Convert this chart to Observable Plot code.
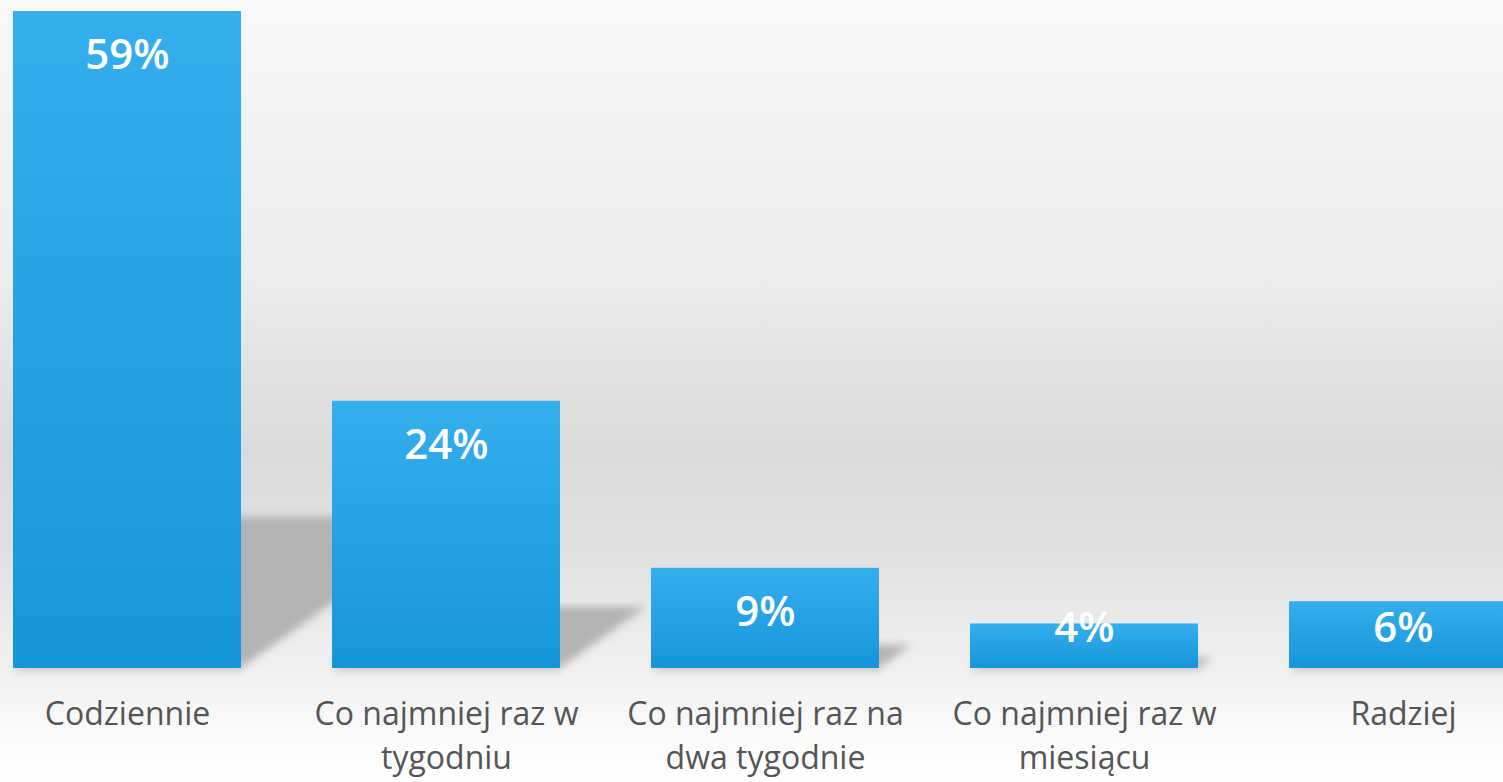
<!DOCTYPE html>
<html>
<head>
<meta charset="utf-8">
<script src="https://cdn.jsdelivr.net/npm/d3@7"></script>
<script src="https://cdn.jsdelivr.net/npm/@observablehq/plot@0.6"></script>
<style>
  html, body { margin: 0; padding: 0; overflow: hidden; }
  body {
    width: 1503px; height: 782px;
    background: linear-gradient(to bottom, #f8f8f8 0%, #ececec 35%, #dadada 58%, #e2e2e2 72%, #f0f0f0 85%, #fcfcfc 96%, #ffffff 100%);
  }
  #chart svg { display: block; background: transparent; }
</style>
</head>
<body>
<div id="chart"></div>
<script>
const categories = [
  "Codziennie",
  "Co najmniej raz w\ntygodniu",
  "Co najmniej raz na\ndwa tygodnie",
  "Co najmniej raz w\nmiesiącu",
  "Radziej"
];
const values = [59, 24, 9, 4, 6];
const valueLabels = ["59%", "24%", "9%", "4%", "6%"];

const data = categories.map((c, i) => ({cat: c, value: values[i], label: valueLabels[i]}));

const plot = Plot.plot({
  width: 1503,
  height: 782,
  marginLeft: 0,
  marginRight: 0,
  marginTop: 11,
  marginBottom: 114,
  style: {background: "transparent", fontFamily: "'Open Sans', sans-serif", color: "#555555", overflow: "hidden"},
  x: {domain: categories, range: [12, 1518], paddingInner: 0.286, paddingOuter: 0},
  y: {domain: [0, 59], axis: null},
  marks: [
    Plot.barY(data, {x: "cat", y: "value", fill: "#2aa5e6"}),
    Plot.text(data, {
      x: "cat",
      y: d => d.value >= 8 ? d.value - 4 : 3.55,
      text: "label",
      fill: "white",
      fontSize: 42,
      fontWeight: 600,
      fontFamily: "'Open Sans', sans-serif"
    }),
    Plot.axisX({tickSize: 0, tickPadding: 25, fontSize: 32, lineHeight: 1.38, fill: "#555555", label: null})
  ]
});

document.getElementById("chart").appendChild(plot);

// decorations: gradient for bars and blurred floor shadows, positioned through the plot's scales
const svg = d3.select(plot);
const defs = svg.insert("defs", ":first-child");
const grad = defs.append("linearGradient").attr("id", "barGrad").attr("x1", 0).attr("y1", 0).attr("x2", 0).attr("y2", 1);
grad.append("stop").attr("offset", "0%").attr("stop-color", "#35aeed");
grad.append("stop").attr("offset", "100%").attr("stop-color", "#1596da");
const blur = defs.append("filter").attr("id", "shadowBlur").attr("x", "-20%").attr("y", "-20%").attr("width", "140%").attr("height", "140%");
blur.append("feGaussianBlur").attr("stdDeviation", 4);

const xs = plot.scale("x");
const ys = plot.scale("y");
const bw = xs.bandwidth;
const base = ys.apply(0);

const barGroup = svg.selectAll("g[aria-label='bar']").node();
barGroup.querySelectorAll("rect").forEach(r => r.setAttribute("fill", "url(#barGrad)"));

const shadowG = d3.create("svg:g").attr("filter", "url(#shadowBlur)");
data.forEach(d => {
  const x0 = xs.apply(d.cat), x1 = x0 + bw;
  const hs = 0.23 * (base - ys.apply(d.value));
  const D = 1.4 * hs;
  const pts = [[x0, base], [x1, base], [x1 + D, base - hs], [x0 + D, base - hs]];
  shadowG.append("polygon").attr("points", pts.map(p => p.join(",")).join(" ")).attr("fill", "#b3b3b3");
  shadowG.append("rect").attr("x", x0 + 2).attr("y", base - 2).attr("width", bw).attr("height", 5).attr("fill", "#d0d0d0");
});
barGroup.parentNode.insertBefore(shadowG.node(), barGroup);
</script>
</body>
</html>
